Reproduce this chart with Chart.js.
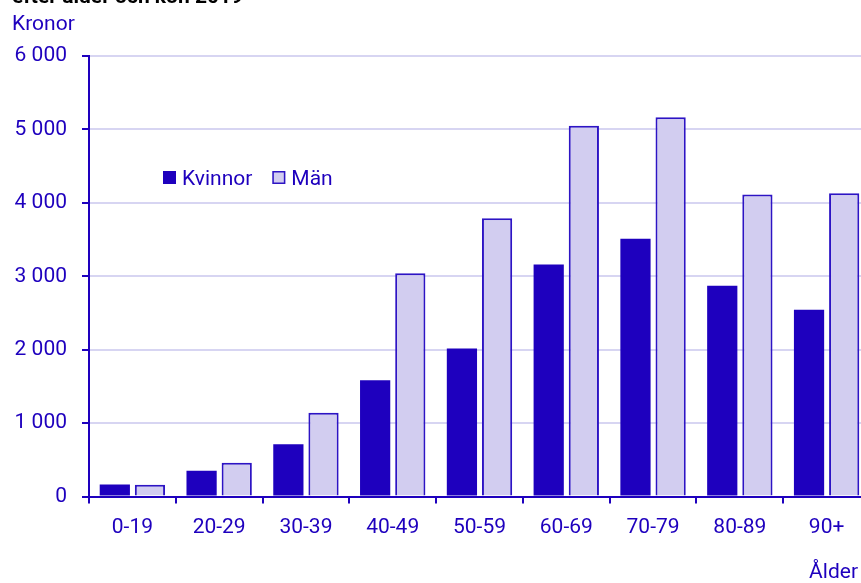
<!DOCTYPE html>
<html>
<head>
<meta charset="utf-8">
<script src="https://cdn.jsdelivr.net/npm/chart.js@4"></script>
<style>
  html, body { margin: 0; padding: 0; overflow: hidden; background: #fff; }
  #wrap { width: 870px; height: 583px; }
</style>
</head>
<body>
<div id="wrap"><canvas id="myChart" width="870" height="583"></canvas></div>
<script>
const categories = ['0-19', '20-29', '30-39', '40-49', '50-59', '60-69', '70-79', '80-89', '90+'];
const kvinnor = [165, 350, 710, 1585, 2015, 3160, 3510, 2870, 2545];
const man = [160, 460, 1140, 3040, 3790, 5050, 5165, 4115, 4130];
const yTicks = [0, 1000, 2000, 3000, 4000, 5000, 6000];

const blue = '#1e00be';
const lilac = '#d2cdf0';
const grid = '#d7d5f2';
const font = 'Roboto';
const fsize = 21;

function fmt(v) {
    return String(v).replace(/\B(?=(\d{3})+(?!\d))/g, ' ');
}

// texts + legend drawn on the canvas
const extras = {
    id: 'extras',
    afterDraw(chart) {
        const ctx = chart.ctx;
        ctx.save();
        ctx.textBaseline = 'alphabetic';
        ctx.textAlign = 'left';
        ctx.fillStyle = '#000';
        ctx.font = 'bold ' + fsize + 'px ' + font;
        ctx.fillText('efter ålder och kön 2019', 12, 3);

        ctx.fillStyle = blue;
        ctx.font = fsize + 'px ' + font;
        ctx.fillText('Kronor', 12, 30);
        ctx.textAlign = 'right';
        ctx.fillText('Ålder', 858, 578);

        // legend
        ctx.textAlign = 'left';
        let x = 163;
        chart.data.datasets.forEach(ds => {
            ctx.fillStyle = ds.backgroundColor;
            ctx.fillRect(x, 171, 13, 13);
            if (ds.borderWidth) {
                ctx.strokeStyle = ds.borderColor;
                ctx.lineWidth = 1.5;
                ctx.strokeRect(x + 0.75, 171.75, 11.5, 11.5);
            }
            ctx.fillStyle = blue;
            ctx.fillText(ds.label, x + 19, 185);
            x += 19 + ctx.measureText(ds.label).width + 20;
        });
        ctx.restore();
    }
};

new Chart(document.getElementById('myChart'), {
    type: 'bar',
    data: {
        labels: categories,
        datasets: [
            { label: 'Kvinnor', data: kvinnor, backgroundColor: blue, borderWidth: 0 },
            { label: 'Män', data: man, backgroundColor: lilac, borderColor: '#2d14c4', borderWidth: 2 }
        ]
    },
    options: {
        responsive: false,
        animation: false,
        categoryPercentage: 0.81,
        barPercentage: 0.86,
        layout: { padding: { top: 56, right: 0, left: 0, bottom: 0 } },
        plugins: { legend: { display: false }, tooltip: { enabled: false } },
        scales: {
            x: {
                afterFit(s) { s.height = 86.5; },
                border: { color: blue, width: 2 },
                grid: { offset: true, drawOnChartArea: false, tickColor: blue, tickLength: 7, lineWidth: 2 },
                ticks: { color: blue, font: { family: font, size: fsize }, padding: 12, maxRotation: 0 }
            },
            y: {
                min: 0,
                max: 6000,
                afterFit(s) { s.width = 89; },
                afterBuildTicks(s) { s.ticks = yTicks.map(v => ({ value: v })); },
                border: { color: blue, width: 2 },
                grid: { color: grid, lineWidth: 2, tickColor: blue, tickLength: 7 },
                ticks: { color: blue, font: { family: font, size: fsize }, padding: 15, callback: v => fmt(v) }
            }
        }
    },
    plugins: [extras]
});
</script>
</body>
</html>
